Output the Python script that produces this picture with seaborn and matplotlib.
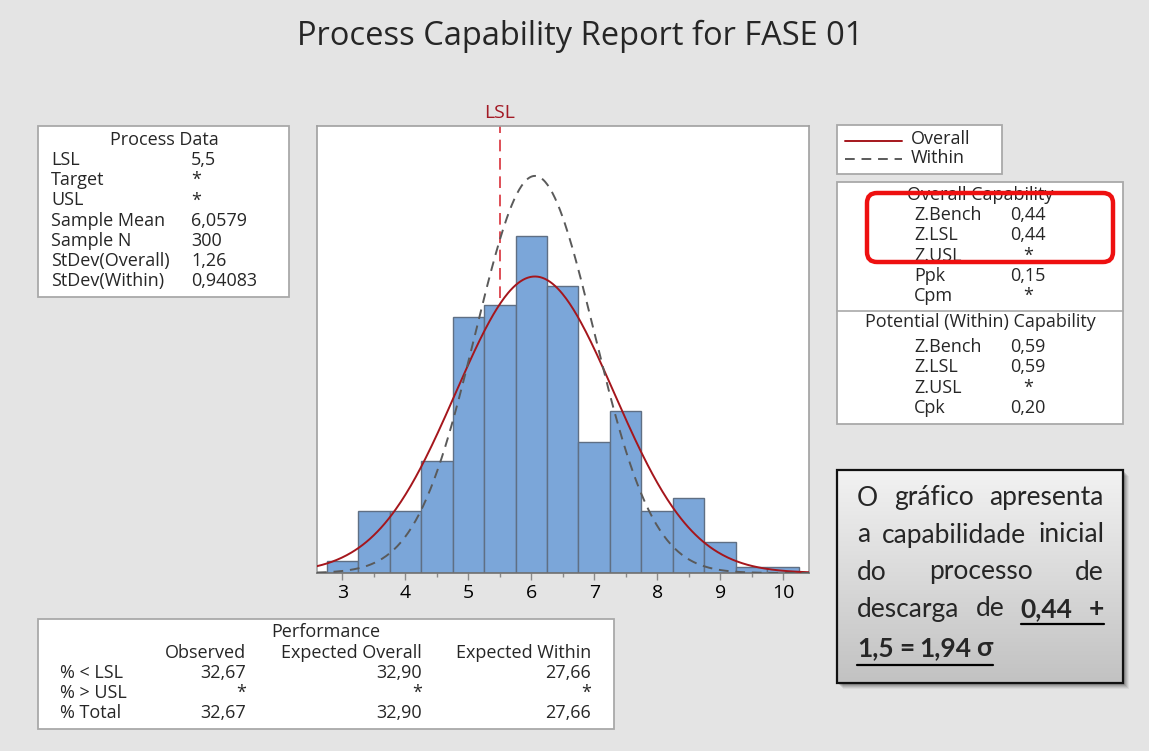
import numpy as np
import pandas as pd
import seaborn as sns
import matplotlib.pyplot as plt
import matplotlib.patches as mpatches
import matplotlib.lines as mlines
from matplotlib.transforms import IdentityTransform

# Histogram data, bins of width 0.5
bin_edges = [2.75, 3.25, 3.75, 4.25, 4.75, 5.25, 5.75, 6.25, 6.75, 7.25,
             7.75, 8.25, 8.75, 9.25, 9.75, 10.25]
bin_counts = [2, 10, 10, 18, 41, 43, 54, 46, 21, 26, 10, 12, 5, 1, 1]

# Process data
lsl = 5.5
sample_mean = 6.0579
sample_n = 300
sd_overall = 1.26
sd_within = 0.94083

process_labels = ["LSL", "Target", "USL", "Sample Mean", "Sample N",
                  "StDev(Overall)", "StDev(Within)"]
process_values = ["5,5", "*", "*", "6,0579", "300", "1,26", "0,94083"]

overall_labels = ["Z.Bench", "Z.LSL", "Z.USL", "Ppk", "Cpm"]
overall_values = ["0,44", "0,44", "*", "0,15", "*"]
within_labels = ["Z.Bench", "Z.LSL", "Z.USL", "Cpk"]
within_values = ["0,59", "0,59", "*", "0,20"]

perf_rows = ["% < LSL", "% > USL", "% Total"]
perf_cols = ["Observed", "Expected Overall", "Expected Within"]
perf_observed = ["32,67", "*", "32,67"]
perf_exp_overall = ["32,90", "*", "32,90"]
perf_exp_within = ["27,66", "*", "27,66"]

W, H = 1149, 751
sns.set_theme(style="white")
plt.rcParams["font.family"] = ["Open Sans", "DejaVu Sans"]
BG = "#e4e4e4"
EDGE = "#a9a9a9"
FS = 13

fig = plt.figure(figsize=(W / 100, H / 100), dpi=100)
fig.set_facecolor(BG)
ID = IdentityTransform()


def fx(x):
    return x / W


def fy(y):
    return 1 - y / H


def box(x0, y0, x1, y1, fc="white", ec=EDGE, lw=1.3, z=1):
    r = mpatches.Rectangle((x0, H - y1), x1 - x0, y1 - y0, transform=ID,
                           facecolor=fc, edgecolor=ec, linewidth=lw, zorder=z)
    fig.add_artist(r)


def txt(x, y, s, ha="left", size=FS, **kw):
    return fig.text(fx(x), fy(y), s, ha=ha, va="center", fontsize=size, **kw)


# Title
txt(580, 36, "Process Capability Report for FASE 01", ha="center", size=23.5)

# Histogram
ax = fig.add_axes([317 / W, 1 - 573 / H, (809 - 317) / W, (573 - 126) / H])
ax.set_facecolor("white")
mids = [(a + b) / 2 for a, b in zip(bin_edges[:-1], bin_edges[1:])]
hist_df = pd.DataFrame({"x": mids, "n": bin_counts})
sns.histplot(data=hist_df, x="x", weights="n", bins=bin_edges, ax=ax,
             color="#7ba6d9", edgecolor="#5f6f84", linewidth=1.0, alpha=1,
             zorder=2)

binw = bin_edges[1] - bin_edges[0]
xs = np.linspace(2.598, 10.41, 400)
y_over = sample_n * binw * np.exp(-0.5 * ((xs - sample_mean) / sd_overall) ** 2) / (sd_overall * np.sqrt(2 * np.pi))
y_within = sample_n * binw * np.exp(-0.5 * ((xs - sample_mean) / sd_within) ** 2) / (sd_within * np.sqrt(2 * np.pi))
sns.lineplot(x=xs, y=y_over, ax=ax, color="#a5161c", linewidth=1.4, zorder=4)
sns.lineplot(x=xs, y=y_within, ax=ax, color="#5a5a5a", linewidth=1.4,
             linestyle=(0, (5, 3.5)), zorder=4)
ax.axvline(lsl, color="#d8303a", linewidth=1.2, linestyle=(0, (7, 4)), zorder=1)

ax.set_xlim(2.598, 10.41)
ax.set_ylim(0, 71.6)
ax.set_xlabel("")
ax.set_ylabel("")
ax.set_yticks([])
ax.set_xticks(range(3, 11))
ax.set_xticks(np.arange(3.5, 10.5, 1.0), minor=True)
ax.tick_params(axis="x", which="major", bottom=True, length=5, width=1,
               color="#8a8a8a", labelsize=14, labelcolor="black", pad=3)
ax.tick_params(axis="x", which="minor", bottom=True, length=3, width=1,
               color="#8a8a8a")
for s in ax.spines.values():
    s.set_color("#a0a0a0")
    s.set_linewidth(1.2)
ax.spines["bottom"].set_color("#707070")
txt(500, 113, "LSL", ha="center", size=14, color="#a31a25")

# Process Data box
box(38, 126, 289, 297)
txt(164, 140, "Process Data", ha="center")
for i, (lab, val) in enumerate(zip(process_labels, process_values)):
    y = 160 + i * 20.2
    txt(51, y, lab)
    txt(191, y, val)

# Legend box
box(837, 125, 1002, 174)
fig.add_artist(mlines.Line2D([845, 902], [H - 141, H - 141], transform=ID,
                             color="#a5161c", linewidth=1.4))
fig.add_artist(mlines.Line2D([845, 902], [H - 159, H - 159], transform=ID,
                             color="#5a5a5a", linewidth=1.4,
                             linestyle=(0, (5, 3.5))))
txt(911, 139, "Overall")
txt(911, 158, "Within")

# Capability box
box(837, 182, 1123, 424)
fig.add_artist(mlines.Line2D([837, 1123], [H - 311, H - 311], transform=ID,
                             color=EDGE, linewidth=1.2))
txt(980, 195, "Overall Capability", ha="center")
for i, (lab, val) in enumerate(zip(overall_labels, overall_values)):
    y = 215 + i * 20.3
    txt(914, y, lab)
    txt(1028, y, val, ha="center")
txt(980, 322, "Potential (Within) Capability", ha="center")
for i, (lab, val) in enumerate(zip(within_labels, within_values)):
    y = 347 + i * 20.3
    txt(914, y, lab)
    txt(1028, y, val, ha="center")

red = mpatches.FancyBboxPatch((867, H - 262), 246, 69, transform=ID,
                              boxstyle="round,pad=0,rounding_size=10",
                              facecolor="none", edgecolor="#ee1010",
                              linewidth=3.2, zorder=5)
fig.add_artist(red)

# Performance box
box(38, 619, 614, 729)
txt(326, 632, "Performance", ha="center")
col_right = [246, 422, 591]
for c, r in zip(perf_cols, col_right):
    txt(r, 653, c, ha="right")
for i, lab in enumerate(perf_rows):
    y = 673 + i * 20
    txt(60, y, lab)
    for vals, r in zip([perf_observed, perf_exp_overall, perf_exp_within], col_right):
        txt(r, y, vals[i], ha="right")

# Callout box with shadow and gradient
for k, a in zip(range(6, 0, -1), [0.05, 0.07, 0.09, 0.11, 0.13, 0.15]):
    fig.add_artist(mpatches.Rectangle((837 + k, H - 683 - k), 286, 213,
                                      transform=ID, facecolor="black",
                                      edgecolor="none", alpha=a, zorder=1))
gax = fig.add_axes([837 / W, 1 - 683 / H, 286 / W, 213 / H], zorder=1.5)
grad = np.linspace(0, 1, 100).reshape(-1, 1)
gax.imshow(grad, aspect="auto", cmap=sns.blend_palette(["#f2f2f2", "#c2c2c2"], as_cmap=True),
           extent=[0, 1, 0, 1], origin="upper")
gax.set_axis_off()
fig.add_artist(mpatches.Rectangle((837, H - 683), 286, 213, transform=ID,
                                  facecolor="none", edgecolor="#111111",
                                  linewidth=1.6, zorder=2))

renderer = fig.canvas.get_renderer()
CFONT = ["Lato", "DejaVu Sans"]
CSIZE = 19


def justify(words, bolds, y, x0=857, x1=1104, spread=True):
    ts = [txt(0, y, w, size=CSIZE, family=CFONT,
              weight="bold" if b else "normal", zorder=6)
          for w, b in zip(words, bolds)]
    ws = [t.get_window_extent(renderer).width for t in ts]
    if spread and len(words) > 1:
        gap = (x1 - x0 - sum(ws)) / (len(words) - 1)
    else:
        gap = ts[0].get_window_extent(renderer).height * 0.22
    x = x0
    spans = []
    for t, w in zip(ts, ws):
        t.set_position((fx(x), fy(y)))
        spans.append((x, x + w))
        x += w + gap
    return spans


justify(["O", "gráfico", "apresenta"], [0, 0, 0], 498)
justify(["a", "capabilidade", "inicial"], [0, 0, 0], 535)
justify(["do", "processo", "de"], [0, 0, 0], 572)
sp = justify(["descarga", "de", "0,44", "+"], [0, 0, 1, 1], 609)
fig.add_artist(mlines.Line2D([sp[2][0], sp[3][1]], [H - 624, H - 624],
                             transform=ID, color="black", linewidth=1.6, zorder=6))
sp = justify(["1,5", "=", "1,94", "σ"], [1, 1, 1, 1], 648, spread=False)
fig.add_artist(mlines.Line2D([sp[0][0], sp[-1][1]], [H - 665, H - 665],
                             transform=ID, color="black", linewidth=1.6, zorder=6))

fig.savefig("out.png", dpi=100, facecolor=BG)
